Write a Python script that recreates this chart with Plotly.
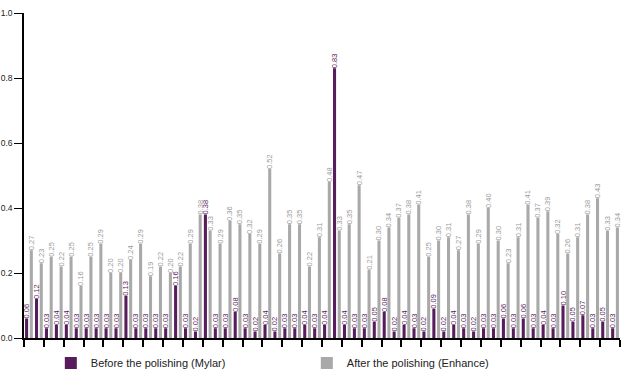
import plotly.graph_objects as go

categories = [f"S{i}" for i in range(1, 61)]

mylar = [0.06, 0.12, 0.03, 0.04, 0.04, 0.03, 0.03, 0.03, 0.03, 0.03,
         0.13, 0.03, 0.03, 0.03, 0.03, 0.16, 0.03, 0.02, 0.38, 0.03,
         0.03, 0.08, 0.03, 0.02, 0.04, 0.02, 0.03, 0.03, 0.04, 0.03,
         0.04, 0.83, 0.04, 0.03, 0.03, 0.05, 0.08, 0.02, 0.04, 0.03,
         0.02, 0.09, 0.02, 0.04, 0.03, 0.02, 0.03, 0.03, 0.06, 0.03,
         0.06, 0.03, 0.04, 0.03, 0.10, 0.05, 0.07, 0.03, 0.05, 0.03]

enhance = [0.27, 0.23, 0.25, 0.22, 0.25, 0.16, 0.25, 0.29, 0.20, 0.20,
           0.24, 0.29, 0.19, 0.22, 0.20, 0.22, 0.29, 0.38, 0.33, 0.29,
           0.36, 0.35, 0.32, 0.29, 0.52, 0.26, 0.35, 0.35, 0.22, 0.31,
           0.48, 0.33, 0.35, 0.47, 0.21, 0.30, 0.34, 0.37, 0.38, 0.41,
           0.25, 0.30, 0.31, 0.27, 0.38, 0.29, 0.40, 0.30, 0.23, 0.31,
           0.41, 0.37, 0.39, 0.32, 0.26, 0.31, 0.38, 0.43, 0.33, 0.34]

y_ticks = [0.0, 0.2, 0.4, 0.6, 0.8, 1.0]
y_ticktext = ["0.0", "0.2", "0.4", "0.6", "0.8", "1.0"]

PURPLE = "#561c5b"
GRAY = "#a9a9a9"

fig = go.Figure()
fig.add_trace(go.Bar(
    x=categories, y=mylar, name="Before the polishing (Mylar)",
    marker=dict(color=PURPLE, line=dict(width=0)),
    texttemplate="%{y:.2f}", textposition="outside", textangle=-90,
    constraintext="none", cliponaxis=False,
    textfont=dict(family="Liberation Sans", size=7.5, color=PURPLE),
))
fig.add_trace(go.Bar(
    x=categories, y=enhance, name="After the polishing (Enhance)",
    marker=dict(color=GRAY, line=dict(width=0)),
    texttemplate="%{y:.2f}", textposition="outside", textangle=-90,
    constraintext="none", cliponaxis=False,
    textfont=dict(family="Liberation Sans", size=7.5, color="#9a9a9a"),
))

fig.update_layout(
    width=625, height=378,
    margin=dict(l=24, r=5, t=13, b=40, autoexpand=False),
    paper_bgcolor="white", plot_bgcolor="white",
    barmode="group", bargap=0.05, bargroupgap=0.35,
    font=dict(family="Liberation Sans", color="#222222"),
    showlegend=True,
    legend=dict(orientation="h", x=0.045, xanchor="left", y=-0.077, yanchor="middle",
                font=dict(size=11, color="#222222"), entrywidth=211,
                itemwidth=30, bgcolor="rgba(0,0,0,0)"),
    xaxis=dict(
        range=[-0.5, 59.5], showticklabels=False, showgrid=False, automargin=False,
        showline=True, linecolor="#000000", linewidth=1.5,
        ticks="outside", ticklen=7, tickwidth=1.6, tickcolor="#000000",
        tickson="boundaries", zeroline=False,
    ),
    yaxis=dict(
        range=[0, 1.0], tickvals=y_ticks, ticktext=y_ticktext, automargin=False,
        showgrid=False, zeroline=False,
        showline=True, linecolor="#000000", linewidth=1.5,
        ticks="outside", ticklen=8, tickwidth=1.2, tickcolor="#000000",
        tickfont=dict(family="Liberation Sans", size=8.5, color="#222222"),
    ),
    yaxis2=dict(
        range=[0, 1.0], tickvals=y_ticks, overlaying="y", side="left", automargin=False,
        showticklabels=False, showgrid=False, zeroline=False, showline=False,
        ticks="inside", ticklen=9, tickwidth=1.2, tickcolor="#000000",
    ),
)

# remove the default 8px page margin so the figure fills the window exactly
fig.write_html("out.html", config={"displayModeBar": False},
               post_script="document.body.style.margin='0';")
